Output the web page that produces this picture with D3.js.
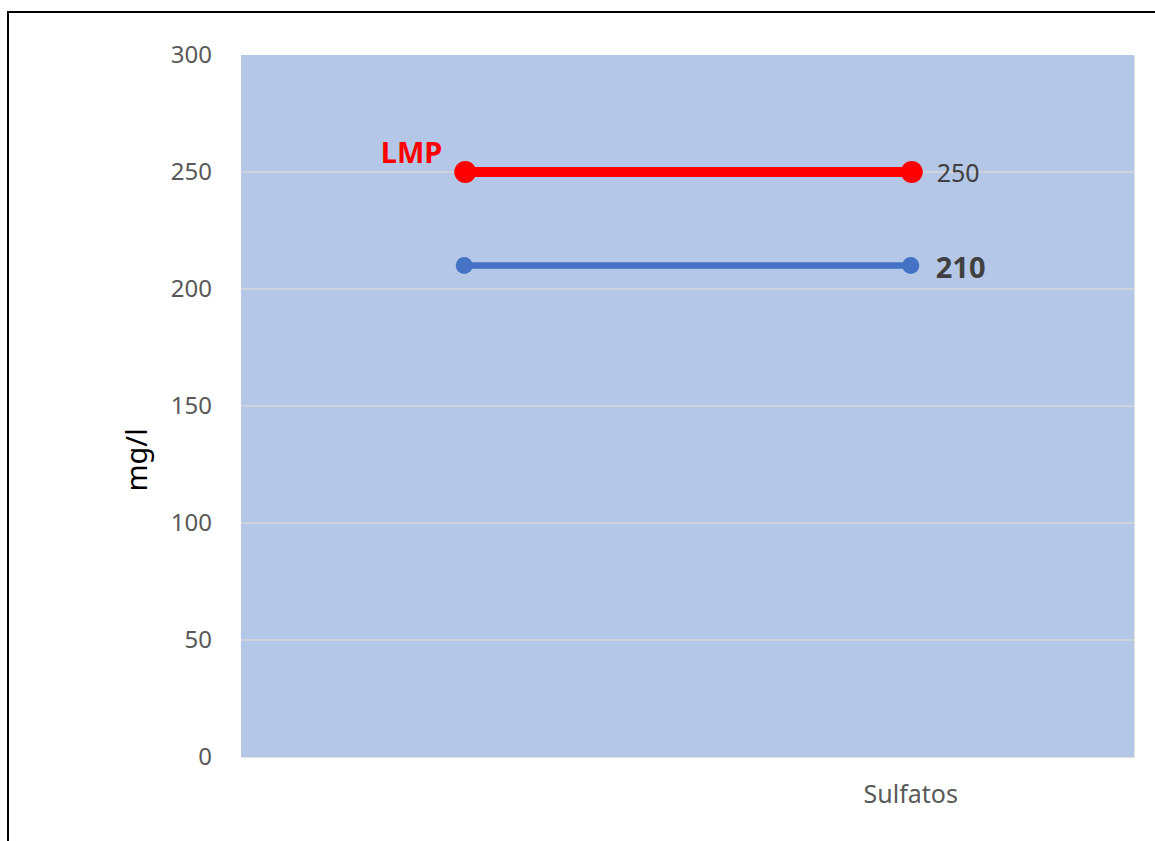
<!DOCTYPE html>
<html><head><meta charset="utf-8">
<script src="https://cdn.jsdelivr.net/npm/d3@7"></script>
<style>html,body{margin:0;padding:0;background:#fff;}svg{display:block;}</style>
</head><body>
<script>
const categories = ["", "Sulfatos"];
const seriesMuestra = [210, 210];
const seriesLMP = [250, 250];
const yTicks = [0, 50, 100, 150, 200, 250, 300];
const lmpLabel = "LMP";
const yTitle = "mg/l";

(function(){
const W = 1155, H = 841;
const svg = d3.select("body").append("svg").attr("width", W).attr("height", H);
const font = "'Noto Sans', 'Open Sans', sans-serif";

// outer border
svg.append("path").attr("d", `M8,${H} L8,12 L${W},12`).attr("fill","none").attr("stroke","#000").attr("stroke-width",2);

const pL = 241, pR = 1134, pT = 55, pB = 757;
const x = d3.scaleBand().domain(categories).range([pL, pR]).paddingInner(0).paddingOuter(0);
const y = d3.scaleLinear().domain([0, 300]).range([pB, pT]);
const cx = d => x(d) + x.bandwidth() / 2;

// shadow + plot area
svg.append("rect").attr("x", pL+1).attr("y", pT+1).attr("width", pR-pL).attr("height", pB-pT).attr("fill","#e2e2e2");
svg.append("rect").attr("x", pL).attr("y", pT).attr("width", pR-pL).attr("height", pB-pT).attr("fill","#b4c7e7");

// gridlines
svg.append("g").selectAll("line").data(yTicks.filter(t => t > 0 && t < 300)).join("line")
  .attr("x1", pL).attr("x2", pR).attr("y1", d => y(d)).attr("y2", d => y(d))
  .attr("stroke", "#d9d9d9").attr("stroke-width", 1.5);

// y axis
const yAxis = svg.append("g").attr("transform", `translate(${pL - 29},0)`)
  .call(d3.axisLeft(y).tickValues(yTicks).tickSize(0).tickPadding(0));
yAxis.select(".domain").remove();
yAxis.selectAll("text").attr("fill", "#595959").attr("dy", "0.3em").style("font-family", font).style("font-size", "24px");

// x axis labels
svg.append("g").selectAll("text").data(categories).join("text")
  .attr("x", d => cx(d)).attr("y", pB + 46).attr("text-anchor","middle")
  .attr("fill","#595959").style("font-family", font).style("font-size","25px").text(d => d);

// y title
svg.append("text").attr("transform", `translate(147,${(pT+pB)/2 + 54}) rotate(-90)`)
  .attr("text-anchor","middle").attr("fill","#000").style("font-family", font).style("font-size","29px").text(yTitle);

const line = d3.line().x((d,i) => cx(categories[i])).y(d => y(d));

// LMP series
svg.append("path").datum(seriesLMP).attr("d", line).attr("fill","none").attr("stroke","#ff0000").attr("stroke-width",10);
svg.append("g").selectAll("circle").data(seriesLMP).join("circle")
  .attr("cx", (d,i) => cx(categories[i]) + 1).attr("cy", d => y(d)).attr("r", 11).attr("fill","#ff0000");

// Muestra series
svg.append("path").datum(seriesMuestra).attr("d", line).attr("fill","none").attr("stroke","#4472c4").attr("stroke-width",6.5);
svg.append("g").selectAll("circle").data(seriesMuestra).join("circle")
  .attr("cx", (d,i) => cx(categories[i])).attr("cy", d => y(d)).attr("r", 8.5).attr("fill","#4472c4");

// labels
svg.append("text").attr("x", cx(categories[0]) - 22).attr("y", y(seriesLMP[0]) - 9).attr("text-anchor","end")
  .attr("fill","#ff0000").style("font-family", font).style("font-weight","bold").style("font-size","29px").text(lmpLabel);
svg.append("text").attr("x", cx(categories[1]) + 26).attr("y", y(seriesLMP[1]) + 10)
  .attr("fill","#404040").style("font-family", font).style("font-size","25px").text(seriesLMP[1]);
svg.append("text").attr("x", cx(categories[1]) + 25).attr("y", y(seriesMuestra[1]) + 12)
  .attr("fill","#404040").style("font-family", font).style("font-weight","bold").style("font-size","29px").text(seriesMuestra[1]);
})();
</script>
</body></html>
